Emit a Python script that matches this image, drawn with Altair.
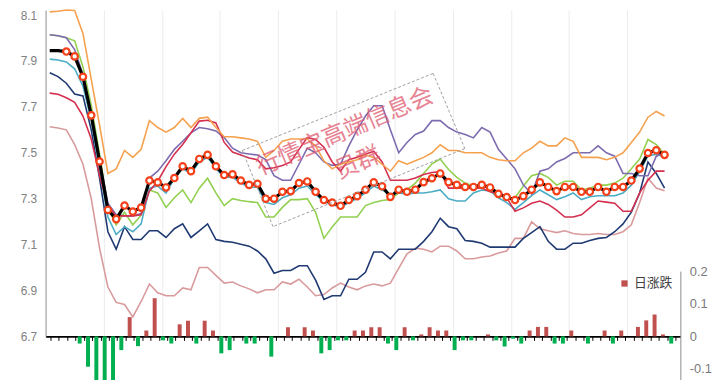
import altair as alt
import pandas as pd

days = list(range(75))

main = [7.945, 7.945, 7.941, 7.920, 7.831, 7.663, 7.462, 7.251, 7.211, 7.270,
        7.244, 7.261, 7.379, 7.371, 7.349, 7.390, 7.441, 7.420, 7.473, 7.491,
        7.441, 7.403, 7.406, 7.379, 7.360, 7.365, 7.300, 7.300, 7.330, 7.333,
        7.368, 7.375, 7.330, 7.294, 7.283, 7.269, 7.294, 7.311, 7.339, 7.371,
        7.354, 7.308, 7.339, 7.330, 7.339, 7.372, 7.389, 7.410, 7.372, 7.360,
        7.351, 7.351, 7.360, 7.349, 7.321, 7.307, 7.294, 7.311, 7.339, 7.371,
        7.351, 7.333, 7.351, 7.351, 7.330, 7.330, 7.351, 7.330, 7.351, 7.351,
        7.379, 7.431, 7.499, 7.511, 7.491]

orange = [8.114, 8.117, 8.122, 8.120, 8.020, 7.820, 7.620, 7.410, 7.430, 7.510,
          7.480, 7.515, 7.640, 7.610, 7.590, 7.610, 7.650, 7.610, 7.650, 7.655,
          7.610, 7.570, 7.570, 7.565, 7.560, 7.550, 7.480, 7.510, 7.550, 7.560,
          7.560, 7.560, 7.530, 7.465, 7.430, 7.450, 7.460, 7.470, 7.490, 7.480,
          7.450, 7.420, 7.465, 7.450, 7.465, 7.480, 7.500, 7.535, 7.510, 7.510,
          7.500, 7.500, 7.500, 7.480, 7.470, 7.465, 7.465, 7.500, 7.520, 7.550,
          7.530, 7.530, 7.565, 7.550, 7.480, 7.480, 7.480, 7.470, 7.480, 7.500,
          7.545, 7.590, 7.655, 7.680, 7.660]

purple = [8.014, 8.010, 8.001, 7.950, 7.840, 7.670, 7.470, 7.280, 7.230, 7.225,
          7.225, 7.235, 7.390, 7.420, 7.465, 7.515, 7.550, 7.587, 7.610, 7.605,
          7.595, 7.566, 7.520, 7.500, 7.495, 7.490, 7.470, 7.400, 7.380, 7.380,
          7.450, 7.520, 7.500, 7.460, 7.445, 7.450, 7.530, 7.600, 7.660, 7.705,
          7.705, 7.600, 7.500, 7.545, 7.580, 7.595, 7.640, 7.640, 7.610, 7.590,
          7.580, 7.565, 7.610, 7.590, 7.515, 7.473, 7.430, 7.360, 7.320, 7.420,
          7.430, 7.460, 7.475, 7.500, 7.500, 7.500, 7.530, 7.500, 7.485, 7.410,
          7.410, 7.400, 7.400, 7.485, 7.500]

red = [7.760, 7.755, 7.740, 7.720, 7.660, 7.560, 7.400, 7.270, 7.225, 7.225,
       7.225, 7.230, 7.334, 7.376, 7.440, 7.494, 7.536, 7.587, 7.638, 7.642,
       7.630, 7.545, 7.503, 7.490, 7.477, 7.470, 7.430, 7.435, 7.445, 7.460,
       7.515, 7.566, 7.558, 7.524, 7.460, 7.420, 7.470, 7.480, 7.494, 7.507,
       7.460, 7.380, 7.380, 7.380, 7.390, 7.405, 7.414, 7.418, 7.346, 7.346,
       7.346, 7.346, 7.346, 7.330, 7.320, 7.305, 7.245, 7.260, 7.280, 7.290,
       7.275, 7.250, 7.220, 7.220, 7.230, 7.260, 7.290, 7.285, 7.280, 7.245,
       7.245, 7.325, 7.380, 7.420, 7.420]

cyan = [7.908, 7.904, 7.896, 7.866, 7.790, 7.642, 7.430, 7.220, 7.144, 7.178,
        7.156, 7.190, 7.346, 7.355, 7.325, 7.389, 7.430, 7.410, 7.460, 7.480,
        7.430, 7.393, 7.393, 7.368, 7.350, 7.350, 7.283, 7.275, 7.304, 7.317,
        7.346, 7.355, 7.317, 7.287, 7.275, 7.262, 7.283, 7.300, 7.325, 7.355,
        7.338, 7.320, 7.325, 7.320, 7.325, 7.325, 7.330, 7.338, 7.300, 7.290,
        7.290, 7.325, 7.338, 7.334, 7.304, 7.283, 7.253, 7.283, 7.313, 7.338,
        7.317, 7.296, 7.308, 7.325, 7.296, 7.308, 7.313, 7.313, 7.313, 7.325,
        7.359, 7.418, 7.486, 7.494, 7.482]

green = [8.014, 8.010, 8.001, 7.988, 7.874, 7.706, 7.494, 7.262, 7.186, 7.241,
         7.186, 7.228, 7.338, 7.325, 7.262, 7.304, 7.338, 7.283, 7.346, 7.389,
         7.325, 7.270, 7.300, 7.292, 7.287, 7.283, 7.220, 7.220, 7.262, 7.296,
         7.296, 7.300, 7.241, 7.127, 7.177, 7.220, 7.220, 7.220, 7.270, 7.283,
         7.292, 7.296, 7.325, 7.338, 7.368, 7.410, 7.452, 7.473, 7.427, 7.393,
         7.368, 7.355, 7.359, 7.346, 7.325, 7.300, 7.304, 7.355, 7.400, 7.410,
         7.393, 7.359, 7.376, 7.376, 7.338, 7.346, 7.359, 7.359, 7.368, 7.389,
         7.430, 7.473, 7.558, 7.536, 7.494]

navy = [7.849, 7.832, 7.803, 7.756, 7.748, 7.600, 7.389, 7.156, 7.080, 7.178,
        7.122, 7.122, 7.160, 7.160, 7.131, 7.169, 7.190, 7.131, 7.160, 7.190,
        7.122, 7.114, 7.110, 7.101, 7.093, 7.072, 7.038, 6.975, 6.987, 6.987,
        7.008, 7.008, 6.945, 6.861, 6.877, 6.877, 6.949, 6.949, 6.979, 7.068,
        7.068, 7.038, 7.080, 7.080, 7.080, 7.114, 7.156, 7.215, 7.178, 7.169,
        7.118, 7.114, 7.106, 7.089, 7.089, 7.089, 7.089, 7.127, 7.152, 7.178,
        7.114, 7.080, 7.080, 7.106, 7.106, 7.118, 7.127, 7.131, 7.156, 7.190,
        7.241, 7.325, 7.460, 7.410, 7.346]

pink = [7.613, 7.608, 7.600, 7.536, 7.450, 7.300, 7.084, 6.915, 6.848, 6.839,
        6.785, 6.852, 6.928, 6.890, 6.877, 6.877, 6.911, 6.903, 7.000, 7.000,
        6.966, 6.932, 6.937, 6.920, 6.907, 6.890, 6.903, 6.903, 6.937, 6.928,
        6.949, 6.915, 6.877, 6.882, 6.911, 6.932, 6.915, 6.903, 6.920, 6.928,
        6.920, 6.932, 6.996, 7.060, 7.084, 7.080, 7.068, 7.093, 7.093, 7.072,
        7.038, 7.038, 7.046, 7.050, 7.063, 7.072, 7.127, 7.127, 7.199, 7.169,
        7.160, 7.152, 7.160, 7.148, 7.144, 7.144, 7.148, 7.144, 7.144, 7.156,
        7.186, 7.283, 7.389, 7.346, 7.334]

chg = [0, 0, 0, -0.022, -0.093, -0.160, -0.170, -0.150, -0.042, 0.059,
       -0.030, 0.018, 0.117, -0.012, -0.022, 0.037, 0.048, -0.022, 0.048, 0.018,
       -0.052, -0.042, 0, -0.022, -0.022, 0, -0.062, 0, 0.028, 0,
       0.028, 0.018, -0.052, -0.042, -0.012, -0.012, 0.018, 0.018, 0.028, 0.028,
       -0.022, -0.042, 0.028, -0.012, 0.006, 0.028, 0.018, 0.018, -0.042, -0.012,
       -0.012, 0, 0.006, -0.012, -0.031, -0.007, -0.022, 0.018, 0.029, 0.029,
       -0.022, -0.022, 0.018, 0, -0.022, 0, 0.018, -0.022, 0.018, 0,
       0.029, 0.049, 0.067, 0.006, -0.022]

series_names = ["pink", "navy", "green", "cyan", "purple", "red", "orange"]
series_values = [pink, navy, green, cyan, purple, red, orange]
series_colors = ["#d99a9c", "#1f3a72", "#92d050", "#4bacc6", "#7d6bb0", "#d42f4f", "#f5a14e"]

left_ticks = [6.7, 6.9, 7.1, 7.3, 7.5, 7.7, 7.9, 8.1]
right_ticks = [-0.1, 0, 0.1, 0.2]
grid_at = [6.5, 13.5, 20.5, 27.5, 34.5, 41.5, 48.5, 55.5, 62.5, 69.5]
bar_tick_at = [k - 0.5 for k in range(76)]
marker_start = 2
legend_label = "日涨跌"
watermark_1 = "行情宝高端信息会"
watermark_2 = "员群"

rows = []
for name, vals in zip(series_names, series_values):
    for d, v in zip(days, vals):
        rows.append({"d": d, "v": v, "s": name})
lines_df = pd.DataFrame(rows)
main_df = pd.DataFrame({"d": days, "v": main})
marker_df = main_df[main_df["d"] >= marker_start]
bar_df = pd.DataFrame({"d": days, "chg": chg, "lab": legend_label})

FONT = "Liberation Sans"

x_line = alt.X("d:Q", scale=alt.Scale(domain=[-0.5, 75.9], nice=False, zero=False),
               axis=alt.Axis(orient="top", values=grid_at, grid=True, gridColor="#ececec",
                             gridWidth=1, labels=False, ticks=False, domain=False, title=None))
y_left = alt.Y("v:Q", scale=alt.Scale(domain=[6.7, 8.1217], nice=False, zero=False),
               axis=alt.Axis(orient="left", values=left_ticks, labelExpr="'' + datum.value",
                             grid=False, ticks=False, tickSize=0, labelPadding=9,
                             domainColor="#8c8c8c", labelColor="#808080", labelFontSize=12,
                             labelFont=FONT, title=None))

thin = alt.Chart(lines_df).mark_line(strokeWidth=1.6).encode(
    x=x_line, y=y_left,
    color=alt.Color("s:N", scale=alt.Scale(domain=series_names, range=series_colors), legend=None),
    order=alt.Order("d:Q"),
)
black = alt.Chart(main_df).mark_line(color="#000000", strokeWidth=3.2).encode(x=x_line, y=y_left)
markers = alt.Chart(marker_df).mark_point(shape="circle", filled=True, fill="#ffffff", stroke="#f5401a",
                                          strokeWidth=2.2, size=42, opacity=1).encode(x=x_line, y=y_left)
line_group = alt.layer(thin, black, markers)

x_bar = alt.X("d:Q", scale=alt.Scale(domain=[-0.5, 74.5], nice=False, zero=False),
              axis=alt.Axis(orient="bottom", values=bar_tick_at, labels=False, ticks=True, tickSize=4,
                            tickColor="#000000", tickWidth=1, domainColor="#000000", domainWidth=2,
                            grid=False, title=None))
y_bar = alt.Y("chg:Q", scale=alt.Scale(domain=[-0.2, 0.2], range=[396, 264], nice=False, zero=False),
              axis=alt.Axis(orient="right", values=right_ticks, labelExpr="'' + datum.value",
                            ticks=False, tickSize=0, labelPadding=9, domainColor="#8c8c8c",
                            labelColor="#7a7a7a", labelFontSize=13, labelFont=FONT, title=None, grid=False))
bars = alt.Chart(bar_df).mark_bar(size=4).encode(
    x=x_bar, y=y_bar, y2=alt.datum(0),
    color=alt.condition(
        alt.datum.chg > 0,
        alt.Color("lab:N", scale=alt.Scale(domain=[legend_label], range=["#c0504d"]),
                  legend=alt.Legend(orient="none", legendX=579, legendY=270, title=None,
                                    symbolType="square", symbolSize=40, labelFontSize=13,
                                    labelFont="Noto Sans CJK SC", labelColor="#404040",
                                    padding=0, labelOffset=3)),
        alt.value("#00b050"),
    ),
)
bar_group = alt.layer(bars)

one = alt.Data(values=[{"k": 1}])
wm_style = dict(angle=337, fontSize=24, font="Noto Sans CJK SC", color="#e05a70", opacity=0.75,
                align="center", baseline="middle")
wm1 = alt.Chart(one).mark_text(text=watermark_1, **wm_style).encode(x=alt.value(303), y=alt.value(123))
wm2 = alt.Chart(one).mark_text(text=watermark_2, **wm_style).encode(x=alt.value(316), y=alt.value(155))

box_style = dict(color="#a0a0a0", strokeDash=[3, 2], strokeWidth=1)
edges = [(199, 142, 392, 64), (392, 64, 424, 140), (424, 140, 230, 219), (230, 219, 199, 142)]
box = [alt.Chart(one).mark_rule(**box_style).encode(
    x=alt.value(a), y=alt.value(b), x2=alt.value(c), y2=alt.value(e)) for a, b, c, e in edges]

chart = alt.layer(bar_group, line_group, *box, wm1, wm2).resolve_scale(
    x="independent", y="independent", color="independent"
).properties(
    width=642, height=330, autosize="none",
    padding={"left": 38, "top": 0, "right": 32, "bottom": 42},
    background="#ffffff",
).configure_view(stroke=None)

chart.save("out.html", embed_options={"renderer": "svg", "actions": False})
